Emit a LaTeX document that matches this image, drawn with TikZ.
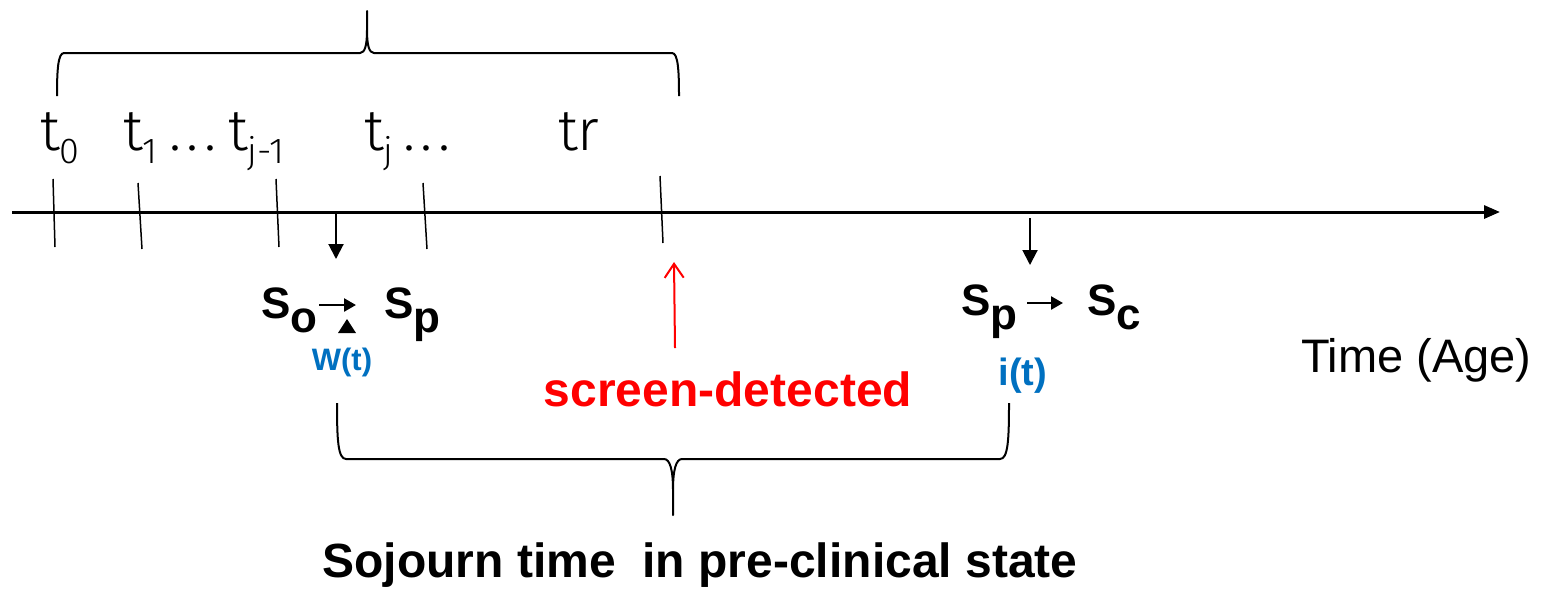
\documentclass[tikz,border=0pt]{standalone}
\usepackage{fontspec}
\setmainfont{Liberation Sans}
\newfontfamily\lightfont{Fira Sans Light}
\usetikzlibrary{arrows.meta}
\definecolor{wblue}{RGB}{0,112,192}
\definecolor{sred}{RGB}{255,0,0}
\newcommand\tlab[2]{{\lightfont\fontsize{58}{64}\selectfont #1\raisebox{-13pt}{\fontsize{36}{40}\selectfont #2}}}
\newcommand\dotsthree{{\lightfont\fontsize{58}{64}\selectfont .\hspace{6pt}.\hspace{6pt}.}}
\newcommand\ssub[2]{S\raisebox{-14pt}{#2}}
\begin{document}
\begin{tikzpicture}[x=1pt,y=-1pt,
  lbl/.style={inner sep=0pt, outer sep=0pt},
  sbig/.style={lbl, font=\bfseries\fontsize{44}{50}\selectfont},
  tick/.style={line width=1.5pt, black},
  brace/.style={line width=2pt, black, line join=round},
  axisline/.style={line width=3pt, -{Triangle[length=16pt,width=13pt]}},
  downarrow/.style={line width=2pt, -{Triangle[length=15pt,width=15pt]}},
  smallarrow/.style={line width=2.5pt, -{Triangle[length=12pt,width=13pt]}},
  redarrow/.style={line width=2pt, sred, -{Straight Barb[length=14pt,width=19pt,line width=2pt]}}
]
\useasboundingbox (0,0) rectangle (1546,590);

% top brace
\draw[brace] (57,96) .. controls (57,70) and (58,53) .. (64,53) -- (360,53)
  .. controls (365,53) and (367,45) .. (367,30) -- (367,11) -- (367,30)
  .. controls (367,45) and (369,53) .. (374,53) -- (672,53)
  .. controls (678,53) and (679,70) .. (679,96);

% axis
\coordinate (ax0) at (12,212);
\coordinate (ax1) at (1500,212);
\draw[axisline] (ax0) -- (ax1);

% ticks
\draw[tick] (53,179) -- (55,247);
\draw[tick] (138,183) -- (142,249);
\draw[tick] (276,179) -- (279,247);
\draw[tick] (423,183) -- (427,249);
\draw[tick] (660,176) -- (663,243);

% tick labels
\node[lbl, anchor=base west] (t0) at (40,150) {\tlab{t}{0}};
\node[lbl, anchor=base west] (t1) at (123,150) {\tlab{t}{1}};
\node[lbl, anchor=base west] (d1) at (169,150) {\dotsthree};
\node[lbl, anchor=base west] (tj1) at (228,150) {\tlab{t}{j-1}};
\node[lbl, anchor=base west] (tj) at (364,150) {\tlab{t}{j}};
\node[lbl, anchor=base west] (d2) at (403,150) {\dotsthree};
\node[lbl, anchor=base west] (tr) at (558,150) {\tlab{tr}{}};

% left state transition
\node[sbig, anchor=base west] (so) at (261,318) {\ssub{S}{o}};
\node[sbig, anchor=base west] (sp1) at (384,318) {\ssub{S}{p}};
\coordinate (a1s) at (319,305);
\coordinate (a1e) at (356,305);
\draw[smallarrow] (a1s) -- (a1e);
\fill (338,333) -- (356,333) -- (347,319) -- cycle;
\node[lbl, anchor=base, text=wblue, font=\bfseries\fontsize{31}{36}\selectfont] (wt) at (342,370) {W(t)};
\coordinate (d1s) at (336,213);
\coordinate (d1e) at (336,259);
\draw[downarrow] (d1s) -- (d1e);

% right state transition
\node[sbig, anchor=base west] (sp2) at (961,315) {\ssub{S}{p}};
\node[sbig, anchor=base west] (sc) at (1087,315) {\ssub{S}{c}};
\coordinate (a2s) at (1027,303);
\coordinate (a2e) at (1063,303);
\draw[smallarrow] (a2s) -- (a2e);
\node[lbl, anchor=base, text=wblue, font=\bfseries\fontsize{38}{44}\selectfont] (it) at (1023,385) {i(t)};
\coordinate (d2s) at (1030,218);
\coordinate (d2e) at (1030,265);
\draw[downarrow] (d2s) -- (d2e);

% screen detected
\coordinate (r0) at (675,348);
\coordinate (r1) at (674,262);
\draw[redarrow] (r0) -- (r1);
\node[lbl, anchor=base, text=sred, font=\bfseries\fontsize{48}{56}\selectfont] (sd) at (728,406) {screen-detected};

% time label
\node[lbl, anchor=base west, font=\fontsize{47}{54}\selectfont] (time) at (1301,372) {Time (Age)};

% bottom brace
\draw[brace] (337,403) .. controls (337,440) and (338,459) .. (346,459) -- (664,459)
  .. controls (670,459) and (673,470) .. (673,490) -- (673,515) -- (673,490)
  .. controls (673,470) and (676,459) .. (682,459) -- (1000,459)
  .. controls (1008,459) and (1009,440) .. (1009,403);

\node[lbl, anchor=base, font=\bfseries\fontsize{48}{56}\selectfont] (soj) at (700,577) {Sojourn time\ \ in pre-clinical state};
\end{tikzpicture}
\end{document}
